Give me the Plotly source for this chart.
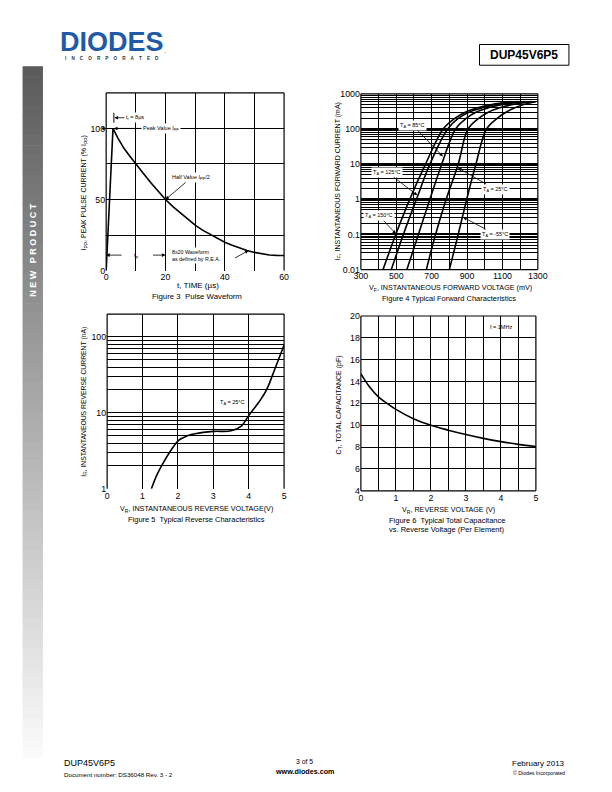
import math
import plotly.graph_objects as go

W, H = 612, 792
FONT = "Liberation Sans, Arial, sans-serif"

# ---------------- data ----------------
# Figure 3 - pulse waveform (t in µs, % of Ipp)
t_us = [0, 2.3, 4, 6, 8, 10, 12.5, 15, 17.5, 20, 22.5, 25, 27.5, 30, 32.5, 35, 37.5, 40,
        42.5, 45, 47.5, 50, 52.5, 55, 57.5, 60]
ipp_pct = [0, 100, 93, 86, 80.5, 75.5, 68.5, 62, 56, 50, 45, 40.5, 36, 32, 28.5, 25.5, 22.5, 20,
           17.8, 15.8, 14.2, 12.8, 11.8, 11.0, 10.7, 10.6]

# Figure 4 - forward characteristics (mV, mA)
if_ma = [0.01, 0.1, 1, 10, 100, 200, 300, 400, 500, 600]
vf_150 = [425, 497, 576, 665, 765, 830, 890, 960, 1040, 1150]
vf_125 = [472, 540, 614, 690, 790, 850, 910, 985, 1070, 1190]
vf_85 = [560, 625, 690, 757, 835, 895, 950, 1020, 1100, 1230]
vf_25 = [670, 722, 782, 850, 905, 965, 1020, 1085, 1160, 1265]
vf_m55 = [800, 850, 898, 950, 1010, 1070, 1120, 1170, 1220, 1290]
fwd_series = [("150", vf_150), ("125", vf_125), ("85", vf_85), ("25", vf_25), ("-55", vf_m55)]

# Figure 5 - reverse characteristics (V, nA)
vr5 = [1.25, 1.4, 1.56, 1.8, 2.02, 2.25, 2.48, 3.0, 3.5, 3.8, 4.0, 4.3, 4.5, 4.75, 5.0]
ir_na = [1.0, 1.5, 2.1, 3.2, 4.35, 4.95, 5.3, 5.7, 5.8, 6.75, 9.2, 14.1, 19.9, 39.0, 78.0]

# Figure 6 - capacitance (V, pF)
vr6 = [0, 0.1, 0.25, 0.5, 0.75, 1.0, 1.5, 2.0, 2.5, 3.0, 3.5, 4.0, 4.5, 5.0]
ct_pf = [14.7, 14.2, 13.5, 12.6, 12.0, 11.45, 10.6, 10.0, 9.55, 9.15, 8.8, 8.5, 8.25, 8.05]

# tick labels
f3_xticks = [0, 20, 40, 60]
f3_yticks = [0, 50, 100]
f4_xticks = [300, 500, 700, 900, 1100, 1300]
f4_yticks = [0.01, 0.1, 1, 10, 100, 1000]
f4_ylabels = ["0.01", "0.1", "1", "10", "100", "1000"]
f5_xticks = [0, 1, 2, 3, 4, 5]
f5_yticks = [1, 10, 100]
f6_xticks = [0, 1, 2, 3, 4, 5]
f6_yticks = [4, 6, 8, 10, 12, 14, 16, 18, 20]


def px(x):
    return x / W


def py(y):
    return 1 - y / H


fig = go.Figure()
line = dict(color="black", width=1.6)
fig.add_trace(go.Scatter(x=t_us, y=ipp_pct, mode="lines", line=line, xaxis="x", yaxis="y",
                         hoverinfo="skip"))
for name, vf in fwd_series:
    fig.add_trace(go.Scatter(x=vf, y=if_ma, mode="lines", line=line, xaxis="x2", yaxis="y2",
                             line_shape="spline", hoverinfo="skip", name=name))
fig.add_trace(go.Scatter(x=vr5, y=ir_na, mode="lines", line=line, xaxis="x3", yaxis="y3",
                         line_shape="spline", hoverinfo="skip"))
fig.add_trace(go.Scatter(x=vr6, y=ct_pf, mode="lines", line=line, xaxis="x4", yaxis="y4",
                         line_shape="spline", hoverinfo="skip"))

tickfont = dict(family=FONT, size=8.8, color="black")
g = dict(showgrid=True, gridcolor="black", gridwidth=1, ticks="")


def mk_axis(**kw):
    base = dict(showgrid=False, zeroline=False, showline=False, ticks="", tickfont=tickfont,
                fixedrange=True)
    base.update(kw)
    return base


def decade_minors(lo, hi):
    vals = []
    for k in range(lo, hi):
        for m in range(2, 10):
            vals.append(m * 10 ** k)
    return vals


fig.update_layout(
    width=W, height=H, margin=dict(l=0, r=0, t=0, b=0), showlegend=False,
    paper_bgcolor="white", plot_bgcolor="white",
    xaxis=mk_axis(domain=[px(102), px(285)], range=[0, 60], anchor="y",
                  tickmode="array", tickvals=f3_xticks,
                  minor=dict(tickmode="array", tickvals=list(range(0, 61, 10)), **g)),
    yaxis=mk_axis(domain=[py(269), py(89)], range=[0, 125], anchor="x",
                  tickmode="array", tickvals=f3_yticks,
                  minor=dict(tickmode="array", tickvals=[25, 50, 75, 100, 125], **g)),
    xaxis2=mk_axis(domain=[px(364), px(546)], range=[300, 1300], anchor="y2",
                   tickmode="array", tickvals=f4_xticks,
                   minor=dict(tickmode="array", tickvals=list(range(300, 1301, 100)), **g)),
    yaxis2=mk_axis(domain=[py(268), py(90)], type="log", range=[-2, 3], anchor="x2",
                   tickmode="array", tickvals=f4_yticks, ticktext=f4_ylabels,
                   showgrid=True, gridcolor="black", gridwidth=2,
                   minor=dict(tickmode="array", tickvals=decade_minors(-2, 3),
                              showgrid=True, gridcolor="black", gridwidth=1, ticks="")),
    xaxis3=mk_axis(domain=[px(103), px(285)], range=[0, 5], anchor="y3",
                   tickmode="array", tickvals=f5_xticks,
                   minor=dict(tickmode="array", tickvals=[0, 1, 2, 3, 4, 5], **g)),
    yaxis3=mk_axis(domain=[py(490), py(313)], type="log", range=[0, math.log10(200)], anchor="x3",
                   tickmode="array", tickvals=f5_yticks,
                   minor=dict(tickmode="array",
                              tickvals=[2, 3, 4, 5, 6, 7, 8, 9, 10, 20, 30, 40, 50, 60, 70, 80, 90, 100, 200],
                              **g)),
    xaxis4=mk_axis(domain=[px(364), px(544)], range=[0, 5], anchor="y4",
                   tickmode="array", tickvals=f6_xticks,
                   minor=dict(tickmode="array", tickvals=[i * 0.5 for i in range(11)], **g)),
    yaxis4=mk_axis(domain=[py(492), py(315)], range=[4, 20], anchor="x4",
                   tickmode="array", tickvals=f6_yticks,
                   minor=dict(tickmode="array", tickvals=f6_yticks, **g)),
)

shapes = []
# sidebar gradient
top, bot = 62, 762
n = 70
for i in range(n):
    y0 = top + (bot - top) * i / n
    y1 = top + (bot - top) * (i + 1) / n + 0.6
    c = int(92 + (250 - 92) * i / (n - 1))
    shapes.append(dict(type="rect", xref="paper", yref="paper", x0=px(16), x1=px(37),
                       y0=py(y1), y1=py(y0), line=dict(width=0),
                       fillcolor=f"rgb({c},{c},{c})", layer="below"))
# title box
shapes.append(dict(type="rect", xref="paper", yref="paper", x0=px(486), x1=px(578),
                   y0=py(61), y1=py(40), line=dict(color="black", width=1)))
# plot borders
for xr, yr, sides in [("x", "y", "ltr"), ("x2", "y2", "ltrb"), ("x3", "y3", "ltr"), ("x4", "y4", "ltrb")]:
    xd, yd = xr + " domain", yr + " domain"
    if "l" in sides:
        shapes.append(dict(type="line", xref=xd, yref=yd, x0=0, x1=0, y0=0, y1=1, line=dict(color="black", width=1.2)))
    if "r" in sides:
        shapes.append(dict(type="line", xref=xd, yref=yd, x0=1, x1=1, y0=0, y1=1, line=dict(color="black", width=1.2)))
    if "t" in sides:
        shapes.append(dict(type="line", xref=xd, yref=yd, x0=0, x1=1, y0=1, y1=1, line=dict(color="black", width=1.2)))
    if "b" in sides:
        shapes.append(dict(type="line", xref=xd, yref=yd, x0=0, x1=1, y0=0, y1=0, line=dict(color="black", width=1.2)))
# t_r marker tick in figure 3
shapes.append(dict(type="line", xref="x", yref="y", x0=2.6, x1=2.6, y0=104, y1=111,
                   line=dict(color="black", width=1)))
fig.update_layout(shapes=shapes)

ann = []


def ptext(x, y, text, size, xanchor="center", bold=False, color="black", angle=0, yanchor="middle"):
    if bold:
        text = "<b>" + text + "</b>"
    ann.append(dict(xref="paper", yref="paper", x=px(x), y=py(y), text=text, showarrow=False,
                    xanchor=xanchor, yanchor=yanchor, textangle=angle,
                    font=dict(family=FONT, size=size, color=color)))


NB = "\u00a0"
# header
ptext(108, 37.5, "DIODES", 27, bold=True, color="#1f5aa8")
ptext(163, 46, ".", 7, color="#1f5aa8")
ptext(108.5, 54, (NB * 4).join("INCORPORATED"), 4.6, bold=True, color="#333333")
ptext(532, 50.5, "DUP45V6P5", 12, bold=True)
# sidebar text
ptext(26.5, 248, "N E W   P R O D U C T", 9, bold=True, color="white", angle=-90)

# figure 3 texts
ptext(79, 190, "I<sub>PP</sub>, PEAK PULSE CURRENT (% I<sub>PP</sub>)", 7, angle=-90)
ptext(196, 284, "t, TIME (µs)", 8)
ptext(195, 295, "Figure 3  Pulse Waveform", 7.8)
# figure 4 texts
ptext(340, 179, "I<sub>F</sub>, INSTANTANEOUS FORWARD CURRENT (mA)", 7, angle=-90)
ptext(456, 287, "V<sub>F</sub>, INSTANTANEOUS FORWARD VOLTAGE (mV)", 7.2)
ptext(455, 297.5, "Figure 4 Typical Forward Characteristics", 7.5)
# figure 5 texts
ptext(79, 402, "I<sub>R</sub>, INSTANTANEOUS REVERSE CURRENT (nA)", 6.8, angle=-90)
ptext(195, 510, "V<sub>R</sub>, INSTANTANEOUS REVERSE VOLTAGE(V)", 7.2)
ptext(195, 521, "Figure 5  Typical Reverse Characteristics", 7.5)
ptext(232, 403, "T<sub>A</sub> = 25°C", 5.5)
# figure 6 texts
ptext(341, 405, "C<sub>T</sub>, TOTAL CAPACITANCE (pF)", 7, angle=-90)
ptext(454, 511, "V<sub>R</sub>, REVERSE VOLTAGE (V)", 7.2)
ptext(453, 522, "Figure 6  Typical Total Capacitance", 7.5)
ptext(453, 531, "vs. Reverse Voltage (Per Element)", 7.5)
ptext(508, 326, "f = 1MHz", 5.5)

# footer
ptext(57, 768, "DUP45V6P5", 9, xanchor="left")
ptext(57, 779, "Document number: DS36048 Rev. 3 - 2", 6.2, xanchor="left")
ptext(306, 766, "3 of 5", 6.8)
ptext(306, 776.5, "www.diodes.com", 7.2, bold=True)
ptext(576, 768, "February 2013", 8, xanchor="right")
ptext(576, 777.5, "© Diodes Incorporated", 5.2, xanchor="right")


def arrow(xr, yr, x, y, ax, ay, text=" ", size=5.5, bg=None, xanchor="center"):
    a = dict(xref=xr, yref=yr, x=x, y=y, ax=ax, ay=ay, text=text, showarrow=True,
             arrowhead=2, arrowsize=0.9, arrowwidth=0.8, arrowcolor="black",
             xanchor=xanchor, font=dict(family=FONT, size=size, color="black"))
    if bg:
        a["bgcolor"] = bg
        a["borderpad"] = 1
    ann.append(a)


# figure 3 callouts
arrow("x", "y", 2.8, 107.5, 10, 0, "t<sub>r</sub> = 8µs", 5.5, bg="white", xanchor="left")
arrow("x", "y", 0, 100, -7, 0)
arrow("x", "y", 2.6, 100, 27, 0, "Peak Value I<sub>PP</sub>", 5.5, bg="white", xanchor="left")
arrow("x", "y", 20, 50, 26, -22, "Half Value I<sub>PP</sub>/2", 5.5, bg="white")
arrow("x", "y", 0, 10.9, 18, 0)
arrow("x", "y", 20, 10.9, -15, 0)
ann.append(dict(xref="x", yref="y", x=10.2, y=10.9, text="t<sub>p</sub>", showarrow=False,
                font=dict(family=FONT, size=6, color="black")))
ann.append(dict(xref="x", yref="y", x=21.5, y=10.5, text="8x20 Waveform<br>as defined by R.E.A.",
                showarrow=False, xanchor="left", align="left", bgcolor="white",
                font=dict(family=FONT, size=5.3, color="black")))
arrow("x", "y", 48, 14.2, -16, 9)

# figure 4 temperature callouts (log axis -> log10 positions)
arrow("x2", "y2", 763, 1.22, -30, -31, "T<sub>A</sub> = 85°C", 5.5, bg="white")
arrow("x2", "y2", 619, 0.115, -30, -23, "T<sub>A</sub> = 125°C", 5.5, bg="white")
arrow("x2", "y2", 849, 0.89, 37, 21, "T<sub>A</sub> = 25°C", 5.5, bg="white")
arrow("x2", "y2", 498, -0.98, -17, -18, "T<sub>A</sub> = 150°C", 5.5, bg="white")
arrow("x2", "y2", 878, -0.51, 32, 17, "T<sub>A</sub> = -55°C", 5.5, bg="white")

fig.update_layout(annotations=ann)
css_js = (
    "var h=document.documentElement,b=document.body;"
    "h.style.margin='0';h.style.padding='0';h.style.overflow='hidden';h.style.height='792px';"
    "b.style.margin='0';b.style.padding='0';b.style.overflow='hidden';b.style.height='792px';"
    "var d=document.getElementById('{plot_id}');if(d){d.style.display='block';}"
)
fig.write_html("out.html", config={"displayModeBar": False, "staticPlot": True}, post_script=css_js)
